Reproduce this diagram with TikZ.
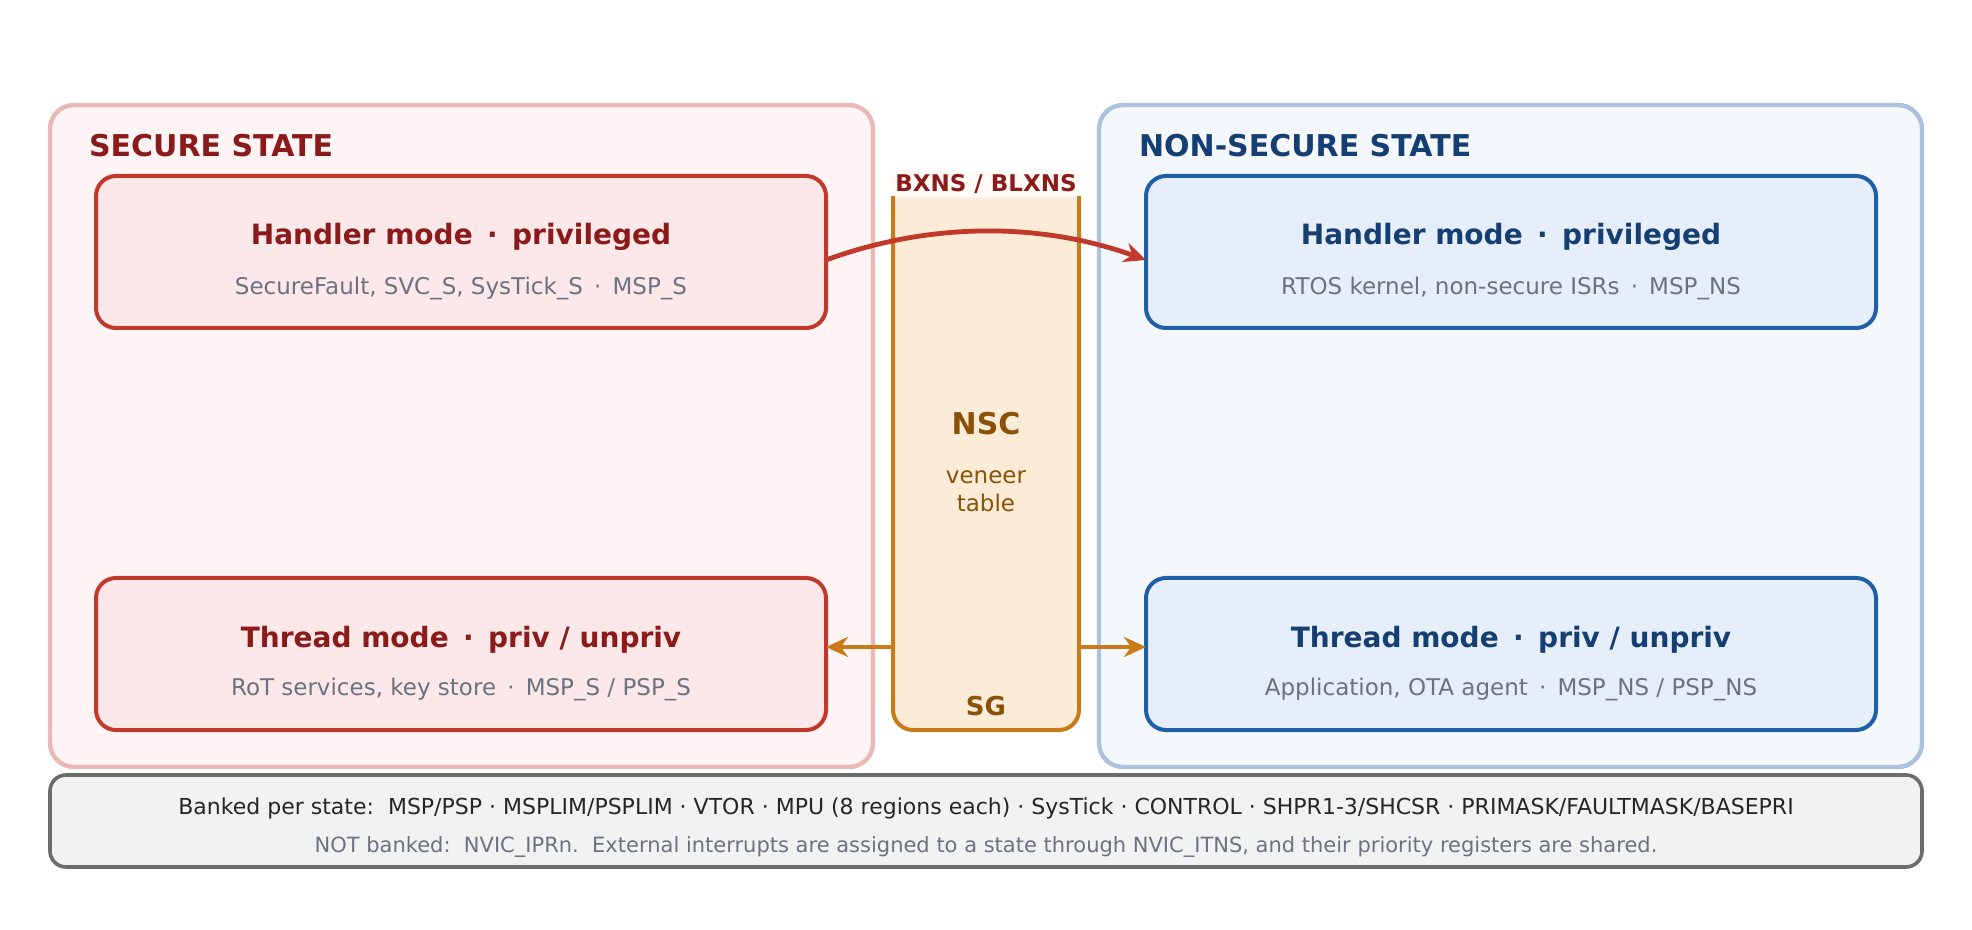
\documentclass[tikz,border=0pt]{standalone}
\usepackage{fontspec}
\setmainfont{DejaVu Sans}
\usetikzlibrary{arrows.meta}
\definecolor{sred}{HTML}{C0392B}\definecolor{sredd}{HTML}{8B1A1A}
\definecolor{nblue}{HTML}{1F5FA8}\definecolor{nblued}{HTML}{153E72}
\definecolor{orn}{HTML}{CA7A16}\definecolor{ornd}{HTML}{8A5206}
\definecolor{gtxt}{HTML}{6B7280}
\definecolor{sfill}{HTML}{FCE8E8}\definecolor{nfill}{HTML}{E6EEFA}
\definecolor{sofill}{HTML}{FEF4F5}\definecolor{nofill}{HTML}{F4F7FC}
\definecolor{ofill}{HTML}{FBEBD7}
\tikzset{x=0.5pt,y=-0.5pt,
 outer/.style={rounded corners=12pt,line width=2.2pt},
 mode/.style={rounded corners=10pt,line width=2pt},
 ttl/.style={font=\bfseries\fontsize{14}{16}\selectfont,anchor=base},
 sub/.style={font=\fontsize{11.5}{13}\selectfont,text=gtxt,anchor=base},
 st/.style={font=\bfseries\fontsize{15}{17}\selectfont,anchor=base west},
 tip/.style={-{Stealth[length=11pt,width=10pt]}}}
\begin{document}
\begin{tikzpicture}
\useasboundingbox (0,0) rectangle (1972,930);
\fill[white] (0,0) rectangle (1972,930);
\draw[outer,draw=sred!35,fill=sofill] (50,105) rectangle (873,767);
\draw[outer,draw=nblue!38,fill=nofill] (1099,105) rectangle (1922,767);
\node[st,text=sredd] (ts) at (82,157) {SECURE STATE};
\node[st,text=nblued] (tn) at (1132,157) {NON-SECURE STATE};
\draw[mode,draw=sred,fill=sfill] (96,176) rectangle (826,328);
\draw[mode,draw=sred,fill=sfill] (96,578) rectangle (826,730);
\draw[mode,draw=nblue,fill=nfill] (1146,176) rectangle (1876,328);
\draw[mode,draw=nblue,fill=nfill] (1146,578) rectangle (1876,730);
\coordinate (hs) at (826,260); \coordinate (hn) at (1146,260);
\coordinate (tsl) at (826,647); \coordinate (tnr) at (1146,647);
\node[ttl,text=sredd] (a1) at (461,245) {Handler mode \,·\, privileged};
\node[sub] (a2) at (461,295) {SecureFault, SVC\_S, SysTick\_S \,·\, MSP\_S};
\node[ttl,text=sredd] (b1) at (461,647) {Thread mode \,·\, priv / unpriv};
\node[sub] (b2) at (461,696) {RoT services, key store \,·\, MSP\_S / PSP\_S};
\node[ttl,text=nblued] (c1) at (1511,245) {Handler mode \,·\, privileged};
\node[sub] (c2) at (1511,295) {RTOS kernel, non-secure ISRs \,·\, MSP\_NS};
\node[ttl,text=nblued] (d1) at (1511,647) {Thread mode \,·\, priv / unpriv};
\node[sub] (d2) at (1511,696) {Application, OTA agent \,·\, MSP\_NS / PSP\_NS};
\draw[rounded corners=10pt,line width=2pt,draw=orn,fill=ofill] (893,175) rectangle (1079,730);
\fill[white] (880,160) rectangle (1092,196);
\node[font=\bfseries\fontsize{11.5}{13}\selectfont,text=sredd,fill=orange!3,rounded corners=4pt,inner sep=2pt,minimum width=92pt] (bx) at (986,184) {BXNS / BLXNS};
\coordinate (nl) at (893,647); \coordinate (nr) at (1079,647);
\node[font=\bfseries\fontsize{15}{17}\selectfont,text=ornd] (nsc) at (986,424) {NSC};
\node[font=\fontsize{11.5}{14}\selectfont,text=ornd,align=center] (vt) at (986,491) {veneer\\table};
\node[font=\bfseries\fontsize{13}{15}\selectfont,text=ornd] (sg) at (986,706) {SG};
\draw[sred,line width=2.4pt,tip] (hs) .. controls (930,222) and (1040,222) .. (hn);
\draw[orn,line width=2.4pt,tip] (nl) -- (tsl);
\draw[orn,line width=2.4pt,tip] (nr) -- (tnr);
\draw[rounded corners=8pt,line width=1.8pt,draw=gray!85!black,fill=gray!10] (50,775) rectangle (1922,867);
\node[font=\fontsize{11}{13}\selectfont,text=black!85] (l1) at (986,808) {Banked per state:\ \ MSP/PSP · MSPLIM/PSPLIM · VTOR · MPU (8 regions each) · SysTick · CONTROL · SHPR1-3/SHCSR · PRIMASK/FAULTMASK/BASEPRI};
\node[font=\fontsize{10.5}{12}\selectfont,text=gtxt] (l2) at (986,847) {NOT banked:\ \ NVIC\_IPRn.\ \ External interrupts are assigned to a state through NVIC\_ITNS, and their priority registers are shared.};
\end{tikzpicture}
\end{document}
